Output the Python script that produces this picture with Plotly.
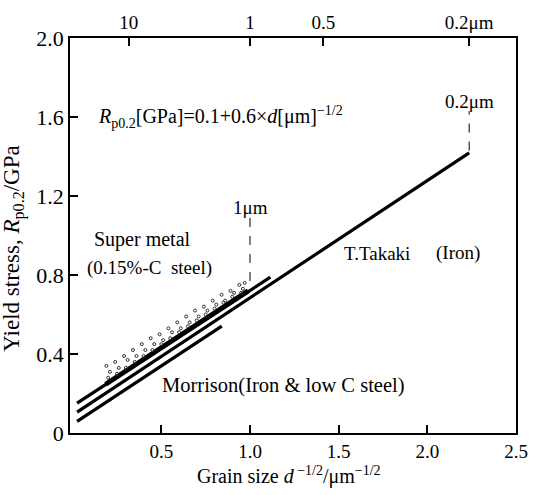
import plotly.graph_objects as go

# Hall-Petch lines (d^-1/2 in um^-1/2, yield stress in GPa): end points
upper_x = [0.025, 1.115]
upper_y = [0.151, 0.789]
takaki_x = [0.025, 2.236]
takaki_y = [0.106, 1.418]
morrison_x = [0.025, 0.841]
morrison_y = [0.059, 0.541]
supermetal_band_x = [0.186, 0.99]
supermetal_band_y = [0.247, 0.72]

# Super metal (0.15%-C steel) measured points
sm_x = [0.19, 0.24, 0.29, 0.34, 0.39, 0.44, 0.49, 0.54, 0.59, 0.64, 0.69, 0.74, 0.79, 0.84, 0.89, 0.94, 0.97,
        0.21, 0.26, 0.31, 0.36, 0.41, 0.46, 0.51, 0.56, 0.61, 0.66, 0.71, 0.76, 0.81, 0.86, 0.91, 0.96,
        0.20, 0.25, 0.30, 0.35, 0.40, 0.45, 0.50, 0.55, 0.60, 0.65, 0.70, 0.75, 0.80, 0.85, 0.90, 0.95]
sm_y = [0.34, 0.36, 0.39, 0.42, 0.45, 0.48, 0.50, 0.53, 0.56, 0.59, 0.62, 0.64, 0.67, 0.70, 0.72, 0.75, 0.76,
        0.31, 0.33, 0.37, 0.39, 0.42, 0.45, 0.47, 0.51, 0.53, 0.56, 0.59, 0.62, 0.65, 0.67, 0.71, 0.73,
        0.28, 0.30, 0.33, 0.36, 0.39, 0.42, 0.45, 0.48, 0.51, 0.54, 0.57, 0.60, 0.63, 0.66, 0.69, 0.71]

# grain-size markers (d^-1/2 position, marker span)
mark_1um_x = [1.0, 1.0]
mark_1um_y = [0.77, 1.09]
mark_02um_x = [2.236, 2.236]
mark_02um_y = [1.43, 1.63]

# axis ticks
x_ticks = [0.5, 1.0, 1.5, 2.0, 2.5]
x_ticklabels = ["0.5", "1.0", "1.5", "2.0", "2.5"]
y_ticks = [0, 0.4, 0.8, 1.2, 1.6, 2.0]
y_ticklabels = ["0", "0.4", "0.8", "1.2", "1.6", "2.0"]
top_ticks = [0.316, 1.0, 1.414, 2.236]
top_ticklabels = ["10", "1", "0.5", "0.2μm"]

FONT = "Liberation Serif"
X_RANGE = [-0.015, 2.5]
Y_RANGE = [0, 2.0]


def font(size):
    return dict(family=FONT, size=size, color="black")


fig = go.Figure()

for xs, ys in [(upper_x, upper_y), (takaki_x, takaki_y), (morrison_x, morrison_y)]:
    fig.add_trace(go.Scatter(x=xs, y=ys, mode="lines",
                             line=dict(color="black", width=3.2), showlegend=False))

fig.add_trace(go.Scatter(x=supermetal_band_x, y=supermetal_band_y, mode="lines",
                         line=dict(color="black", width=5), showlegend=False))

fig.add_trace(go.Scatter(x=sm_x, y=sm_y, mode="markers",
                         marker=dict(symbol="circle-open", size=3, color="#333333",
                                     line=dict(width=1)),
                         showlegend=False))

for xs, ys in [(mark_1um_x, mark_1um_y), (mark_02um_x, mark_02um_y)]:
    fig.add_trace(go.Scatter(x=xs, y=ys, mode="lines",
                             line=dict(color="black", width=1, dash="dash"), showlegend=False))

# invisible trace to activate the top axis
fig.add_trace(go.Scatter(x=[top_ticks[0]], y=[0], xaxis="x2", mode="markers",
                         marker=dict(opacity=0), showlegend=False, hoverinfo="skip"))

annotations = [
    dict(x=0.13, y=1.6, text="<i>R</i><sub>p0.2</sub>[GPa]=0.1+0.6×<i>d</i>[μm]<sup>−1/2</sup>",
         xanchor="left", font=font(20)),
    dict(x=1.0, y=1.14, text="1μm", xanchor="center", font=font(19)),
    dict(x=2.236, y=1.68, text="0.2μm", xanchor="center", font=font(19)),
    dict(x=0.11, y=0.98, text="Super metal", xanchor="left", font=font(20)),
    dict(x=0.07, y=0.836, text="(0.15%-C  steel)", xanchor="left", font=font(19)),
    dict(x=1.52, y=0.91, text="T.Takaki", xanchor="left", font=font(19)),
    dict(x=2.04, y=0.91, text="(Iron)", xanchor="left", font=font(19)),
    dict(x=0.49, y=0.24, text="Morrison(Iron &amp; low C steel)", xanchor="left", font=font(20.5)),
    dict(x=0.49, y=-0.107, xref="paper", yref="paper",
         text="Grain size <i>d</i><sup> −1/2</sup>/μm<sup>−1/2</sup>", xanchor="center",
         yanchor="middle", font=font(20)),
    dict(x=-0.126, y=0.466, xref="paper", yref="paper", textangle=-90,
         text="Yield stress, <i>R</i><sub>p0.2</sub>/GPa", xanchor="center", yanchor="middle",
         font=font(23)),
]
for a in annotations:
    a.setdefault("showarrow", False)
    a.setdefault("xref", "x")
    a.setdefault("yref", "y")
fig.update_layout(annotations=annotations)

axis_common = dict(showgrid=False, zeroline=False, showline=True, linecolor="black",
                   linewidth=1.5, ticks="inside", ticklen=8, tickcolor="black", tickwidth=1.5)

fig.update_layout(
    width=540, height=495,
    margin=dict(l=70, r=12, t=32, b=62),
    paper_bgcolor="white", plot_bgcolor="white",
    font=dict(family=FONT, color="black"),
    xaxis=dict(range=X_RANGE, tickvals=x_ticks, ticktext=x_ticklabels,
               tickfont=font(19), **axis_common),
    xaxis2=dict(range=X_RANGE, overlaying="x", side="top", tickvals=top_ticks,
                ticktext=top_ticklabels, tickfont=font(19), **axis_common),
    yaxis=dict(range=Y_RANGE, tickvals=y_ticks, ticktext=y_ticklabels, mirror=True,
               tickfont=font(22), **axis_common),
)

fig.write_html("out.html")
